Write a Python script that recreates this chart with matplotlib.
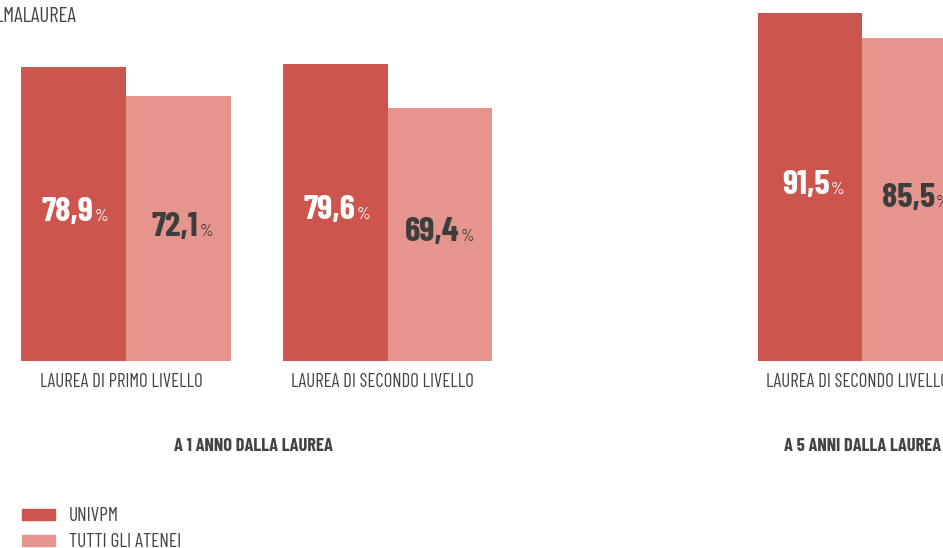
import matplotlib
matplotlib.use("Agg")
import matplotlib.pyplot as plt
from matplotlib.patches import Patch
from matplotlib.transforms import blended_transform_factory, ScaledTranslation

# occupazione dei laureati (%), UNIVPM vs media nazionale
categorie = ["LAUREA DI PRIMO LIVELLO", "LAUREA DI SECONDO LIVELLO", "LAUREA DI SECONDO LIVELLO"]
univpm = [78.9, 79.6, 91.5]
tutti_atenei = [72.1, 69.4, 85.5]
gruppi = ["A 1 ANNO DALLA LAUREA", "A 5 ANNI DALLA LAUREA"]
serie = ["UNIVPM", "TUTTI GLI ATENEI"]
fonte = "FONTE: ALMALAUREA"

ROSSO = "#CD554D"
ROSA = "#E6958E"
GRIGIO = "#444444"
FONT = "Barlow Condensed"

pos = [0, 1, 2.815]
w = 0.4

fig = plt.figure(figsize=(9.43, 5.48), dpi=100)
ax = fig.add_axes([0, 0.3412, 1, 0.6588])
ax.bar([p - w / 2 for p in pos], univpm, width=w, color=ROSSO)
ax.bar([p + w / 2 for p in pos], tutti_atenei, width=w, color=ROSA)
ax.set_xlim(-0.4818, 3.124)
ax.set_ylim(10.57, 94.43)

for s in ax.spines.values():
    s.set_visible(False)
ax.set_yticks([])
ax.set_xticks(pos)
ax.set_xticklabels(categorie, fontfamily=FONT, fontsize=13.5, color=GRIGIO)
ax.tick_params(axis="x", length=0, pad=8.5)
# etichette categorie leggermente spostate a sinistra
sposta = ScaledTranslation(-5 / 100, 0, fig.dpi_scale_trans)
for lab in ax.get_xticklabels():
    lab.set_transform(lab.get_transform() + sposta)

# etichette dei valori al centro delle barre
y0 = ax.get_ylim()[0]
for vals, dx, col in [(univpm, -w / 2, "white"), (tutti_atenei, w / 2, "#3d3d3d")]:
    for p, v in zip(pos, vals):
        mid = (y0 + v) / 2
        num = f"{v:.1f}".replace(".", ",")
        ax.annotate(num, (p + dx, mid), xytext=(14.5, -5), textcoords="offset points",
                    ha="right", va="baseline", fontfamily=FONT, fontweight="bold",
                    fontsize=25, color=col)
        ax.annotate("%", (p + dx, mid), xytext=(15.3, -5), textcoords="offset points",
                    ha="left", va="baseline", fontfamily=FONT, fontsize=12.5, color=col)

tr = blended_transform_factory(ax.transData, fig.transFigure)
ax.text((pos[0] + pos[1]) / 2 - 0.013, 0.186, gruppi[0], transform=tr, ha="center", va="center",
        fontfamily=FONT, fontweight="bold", fontsize=13.3, color=GRIGIO)
ax.text(pos[2], 0.186, gruppi[1], transform=tr, ha="center", va="center",
        fontfamily=FONT, fontweight="bold", fontsize=13.3, color=GRIGIO)

fig.text(0.0806, 0.969, fonte, ha="right", va="center", fontfamily=FONT, fontsize=15, color=GRIGIO)

handles = [Patch(color=ROSSO), Patch(color=ROSA)]
leg = fig.legend(handles, serie, loc="upper left", frameon=False,
                 prop={"family": FONT, "size": 14}, handlelength=1.7, handleheight=0.5,
                 handletextpad=0.7, labelspacing=0.4, borderaxespad=0, borderpad=0)
leg.set_bbox_to_anchor((0.0233, 0.074), transform=fig.transFigure)
for t in leg.get_texts():
    t.set_color(GRIGIO)

fig.savefig("out.png", dpi=100)
